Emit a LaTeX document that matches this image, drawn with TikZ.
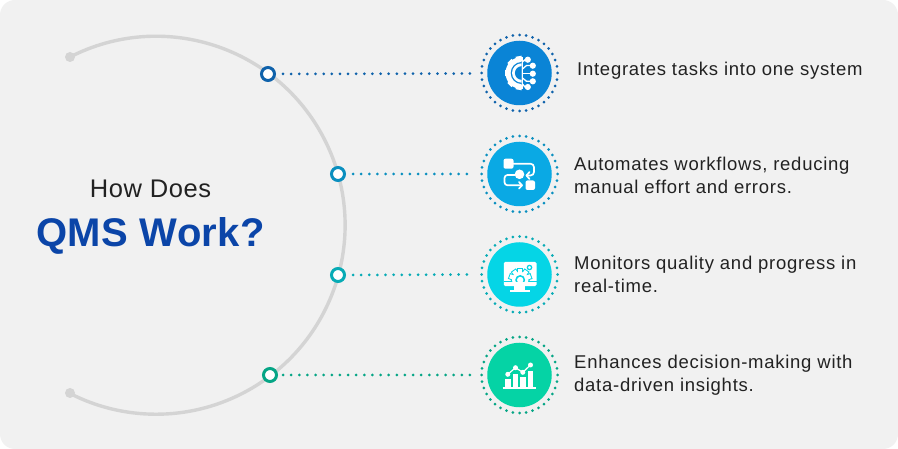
\documentclass[tikz,border=0pt]{standalone}
\usepackage{fontspec}
\setmainfont{Liberation Sans}
\newfontfamily\bodyfont[LetterSpace=4]{Liberation Sans}
\newfontfamily\titlefont[LetterSpace=1]{Liberation Sans}
\newfontfamily\headfont[LetterSpace=2.5]{Liberation Sans}
\definecolor{panel}{HTML}{F1F1F1}
\definecolor{arcgrey}{HTML}{D4D4D4}
\definecolor{inktext}{HTML}{222222}
\definecolor{titleblue}{HTML}{0B45A8}
\definecolor{ringa}{HTML}{0F62AB}\definecolor{fila}{HTML}{0A84D6}
\definecolor{ringb}{HTML}{0A8FBF}\definecolor{filb}{HTML}{0AA9E4}
\definecolor{ringc}{HTML}{07ABB5}\definecolor{filc}{HTML}{05D5E6}
\definecolor{ringd}{HTML}{05A585}\definecolor{fild}{HTML}{05D3A5}
\tikzset{
  marker/.style={circle,draw=#1,line width=3pt,fill=white,minimum size=13pt,inner sep=0pt},
  icondisc/.style={circle,fill=#1,minimum size=64.5pt,inner sep=0pt},
  leader/.style={draw=#1,line width=3pt,line cap=round,dash pattern=on 0pt off 8.13pt},
  desc/.style={anchor=west,align=left,inner sep=0pt,text=inktext,font=\bodyfont\fontsize{18.5}{23}\selectfont},
  glyph/.style={draw=white,line width=1.7pt,line cap=round,line join=round},
}
\newcommand{\dotring}[2]{%
  \foreach \a in {0,10,...,350}{\fill[#2] (#1)++(\a:38pt) circle (1.5pt);}}
\begin{document}
\begin{tikzpicture}[x=1pt,y=-1pt]
\useasboundingbox (0,0) rectangle (898,449);
\fill[white] (0,0) rectangle (898,449);
\fill[panel,rounded corners=15pt] (0,0) rectangle (898,449);
% arc
\coordinate (arcstart) at (70,57);
\draw[arcgrey,line width=3.4pt] (70,57) arc[start angle=117.1,end angle=-117.1,radius=189pt];
\fill[arcgrey] (arcstart) circle (5pt);
\fill[arcgrey] (70,393) circle (5pt);
% title
\node[anchor=base,inner sep=0pt,text=inktext,font=\headfont\fontsize{25.5}{30}\selectfont] (how) at (150.5,197.7) {How Does};
\node[anchor=base,inner sep=0pt,text=titleblue,font=\titlefont\fontsize{40}{46}\selectfont\bfseries] (qms) at (150.5,246.5) {QMS Work?};
% markers and discs
\node[marker=ringa] (ma) at (268,74) {};
\node[marker=ringb] (mb) at (338,174) {};
\node[marker=ringc] (mc) at (338,275) {};
\node[marker=ringd] (md) at (270,375) {};
\node[icondisc=fila] (ia) at (519.5,73) {};
\node[icondisc=filb] (ib) at (519.5,174) {};
\node[icondisc=filc] (ic) at (519.5,274.5) {};
\node[icondisc=fild] (id) at (519.5,375) {};
\dotring{ia}{ringa}\dotring{ib}{ringb}\dotring{ic}{ringc}\dotring{id}{ringd}
% leaders
\coordinate (ea) at (470.6,73.5);\coordinate (eb) at (470.6,174);\coordinate (ec) at (470.6,274.5);\coordinate (ed) at (470.6,375);
\draw[leader=ringa] ([xshift=15pt]ma.center) -- (ea);
\draw[leader=ringb] ([xshift=15pt]mb.center) -- (eb);
\draw[leader=ringc] ([xshift=15pt]mc.center) -- (ec);
\draw[leader=ringd] ([xshift=13pt]md.center) -- (ed);
% text
\node[desc] (ta) at (577,71) {Integrates tasks into one system};
\node[desc] (tb) at (574,175) {Automates workflows, reducing\\manual effort and errors.};
\node[desc] (tc) at (574,274.5) {Monitors quality and progress in\\real-time.};
\node[desc] (td) at (574,375) {Enhances decision-making with\\data-driven insights.};
% icon a
\begin{scope}[shift={(ia.center)}]
  \foreach \t in {100,135,180,225,260}{\fill[white,rotate around={\t:(2,0)}] (14,-3) rectangle (19,3);}
  \fill[white] (2,-16) arc[start angle=90,end angle=270,radius=16pt] -- cycle;
  \fill[fila] (2.2,-11) arc[start angle=90,end angle=270,radius=11pt] -- cycle;
  \fill[white] (2.2,-9.7) arc[start angle=90,end angle=270,radius=9.7pt] -- cycle;
  \fill[fila] (2.2,-6.8) arc[start angle=90,end angle=270,radius=6.8pt] -- cycle;
  \fill[white] (2,-16) rectangle (3.2,16);
  \draw[white,line width=1.3pt] (3,-11) -- (5.5,-13.3) -- (8,-13.3);
  \draw[white,line width=1.3pt] (3,-4) -- (7,-7.5) -- (13,-7.5);
  \draw[white,line width=1.3pt] (3,0.7) -- (13,0.7);
  \draw[white,line width=1.3pt] (3,5) -- (7,8.3) -- (13,8.3);
  \draw[white,line width=1.3pt] (3,11) -- (5.5,14) -- (8,14);
  \foreach \p in {(8.3,-13.3),(13.3,-7.3),(13.3,0.7),(13.3,8.3),(8.3,14)}{\fill[white] \p circle (3.1pt);}
\end{scope}
% icon b
\begin{scope}[shift={(ib.center)}]
  \fill[white,rounded corners=2pt] (-16,-15.3) rectangle (-6,-5.3);
  \fill[white] (0,0.3) circle (4.8pt);
  \fill[white,rounded corners=2pt] (6,6.5) rectangle (15.5,16);
  \draw[glyph,rounded corners=3.5pt] (-6,-10.3) -- (14.5,-10.3) -- (14.5,1.5) -- (7,1.5);
  \draw[glyph] (10,-2) -- (7,1.5) -- (10,5);
  \draw[glyph,rounded corners=3pt] (-4.5,1) -- (-15,1) -- (-15,11.3) -- (2.5,11.3);
  \draw[glyph] (-0.5,8) -- (2.5,11.3) -- (-0.5,14.6);
\end{scope}
% icon c
\begin{scope}[shift={(ic.center)}]
  \fill[white,rounded corners=1.5pt] (-15.7,-12.7) rectangle (17,11.7);
  \fill[filc] (-15.7,7) rectangle (17,8);
  \fill[white] (-6,11.7) rectangle (5.7,15.7);
  \fill[white] (-10,15.7) rectangle (10.5,17.3);
  \begin{scope}
    \clip (-15.7,-12.7) rectangle (17,7);
    \foreach \t in {-70,-35,0,35,70}{\fill[filc,rotate around={\t:(0.7,5.5)}] (-2.4,-6.5) rectangle (3.8,-2);}
    \fill[filc] (0.7,5.5) circle (9.5pt);
    \foreach \t in {-70,-35,0,35,70}{\fill[white,rotate around={\t:(0.7,5.5)}] (-1.4,-5.5) rectangle (2.8,-2);}
    \fill[white] (0.7,5.5) circle (8.2pt);
    \fill[filc] (0.7,5.5) circle (5pt);
    \fill[white] (0.7,5.5) circle (3.2pt);
  \end{scope}
  \draw[filc,line width=1.2pt] (10,-7) circle (2.2pt);
\end{scope}
% icon d
\begin{scope}[shift={(id.center)}]
  \fill[white] (-14.3,4.3) rectangle (-9,12.3);
  \fill[white] (-7,-1) rectangle (-1.3,12.3);
  \fill[white] (0.7,2.3) rectangle (6,12.3);
  \fill[white] (8,-4) rectangle (13.7,12.3);
  \draw[white,line width=1.1pt] (-17,13) -- (16.7,13);
  \draw[fild,line width=2.6pt] (-11.7,-0.7) -- (-4,-7.3) -- (3.3,-2.7) -- (11,-10);
  \draw[white,line width=1.2pt] (-11.7,-0.7) -- (-4,-7.3) -- (3.3,-2.7) -- (11,-10);
  \foreach \p in {(-11.7,-0.7),(-4,-7.3),(3.3,-2.7),(11,-10)}{\fill[white] \p circle (2.5pt);}
\end{scope}
\end{tikzpicture}
\end{document}
